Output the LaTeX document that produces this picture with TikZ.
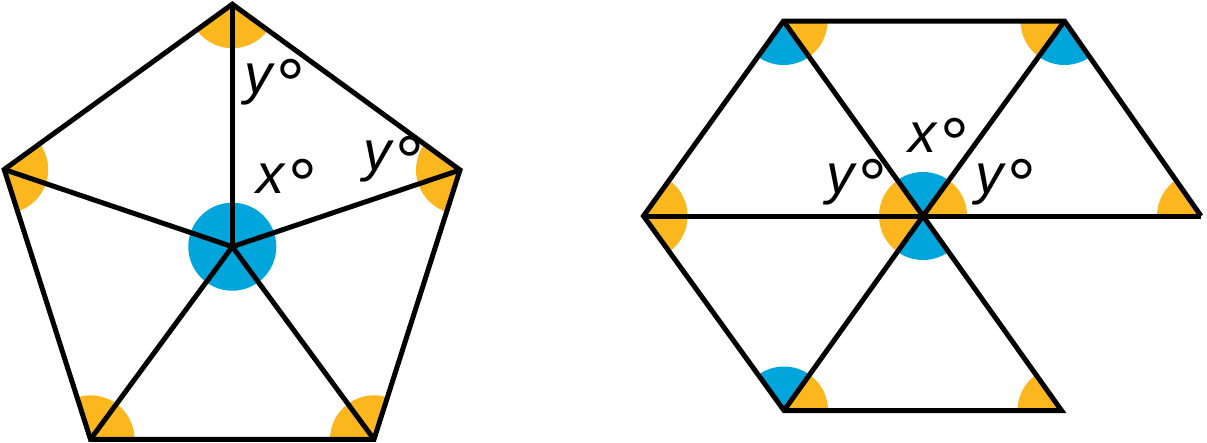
\documentclass[tikz,border=0pt]{standalone}
\usepackage{fontspec}
\setmainfont{Liberation Sans}
\definecolor{angorange}{RGB}{253,183,30}
\definecolor{angblue}{RGB}{0,165,219}
\tikzset{
  edge/.style={line width=5pt, black, line join=miter},
  lbl/.style={inner sep=0pt, anchor=base west, font=\fontsize{56}{60}\selectfont\itshape},
}
\newcommand{\dg}{\kern4pt\raisebox{-16.5pt}{\fontsize{72}{72}\selectfont\upshape°}}
\newcommand{\angmark}[4]{% color, vertex, other1, other2
  \begin{scope}
    \clip (#2) -- (#3) -- (#4) -- cycle;
    \fill[#1] (#2) circle (44pt);
  \end{scope}}
\begin{document}
\begin{tikzpicture}[x=1pt,y=-1pt]
\useasboundingbox (0,0) rectangle (1207,442);
% ---------- pentagon ----------
\coordinate (P0) at (232.3,4.2);
\coordinate (P1) at (460,170);
\coordinate (P2) at (374,439.3);
\coordinate (P3) at (90.5,439.3);
\coordinate (P4) at (4.2,169.5);
\coordinate (C) at (232.3,246.7);
\begin{scope}
  \clip (P0) -- (P1) -- (P2) -- (P3) -- (P4) -- cycle;
  \foreach \v in {P0,P1,P2,P3,P4} \fill[angorange] (\v) circle (44pt);
\end{scope}
\fill[angblue] (C) circle (44pt);
\draw[edge] (P0) -- (P1) -- (P2) -- (P3) -- (P4) -- cycle;
\foreach \v in {P0,P1,P2,P3,P4} \draw[edge] (C) -- (\v);
\node[lbl] (ly1) at (244,93) {y\dg};
\node[lbl] (lx1) at (256,193) {x\dg};
\node[lbl] (ly2) at (363,170) {y\dg};
% ---------- triangles ----------
\coordinate (A) at (783.5,21);
\coordinate (B) at (1064.5,21);
\coordinate (L) at (643.5,216);
\coordinate (O) at (923,216);
\coordinate (R) at (1201,216);
\coordinate (D) at (784,410.5);
\coordinate (E) at (1061.5,410.5);
% T1 L A O
\angmark{angorange}{L}{A}{O}
\angmark{angblue}{A}{L}{O}
\angmark{angorange}{O}{L}{A}
% T2 A B O
\angmark{angorange}{A}{B}{O}
\angmark{angorange}{B}{A}{O}
\angmark{angblue}{O}{A}{B}
% T3 O B R
\angmark{angorange}{O}{B}{R}
\angmark{angblue}{B}{O}{R}
\angmark{angorange}{R}{O}{B}
% T4 L O D
\angmark{angorange}{L}{O}{D}
\angmark{angorange}{O}{L}{D}
\angmark{angblue}{D}{L}{O}
% T5 D O E
\angmark{angorange}{D}{O}{E}
\angmark{angblue}{O}{D}{E}
\angmark{angorange}{E}{D}{O}
\draw[edge] (R) -- (B) -- (A) -- (L) -- (D) -- (E) -- (O);
\draw[edge] (L) -- (R);
\draw[edge] (A) -- (O) -- (B);
\draw[edge] (D) -- (O);
\node[lbl] (lx2) at (908,152) {x\dg};
\node[lbl] (ly3) at (826,193) {y\dg};
\node[lbl] (ly4) at (975,193) {y\dg};
\end{tikzpicture}
\end{document}
